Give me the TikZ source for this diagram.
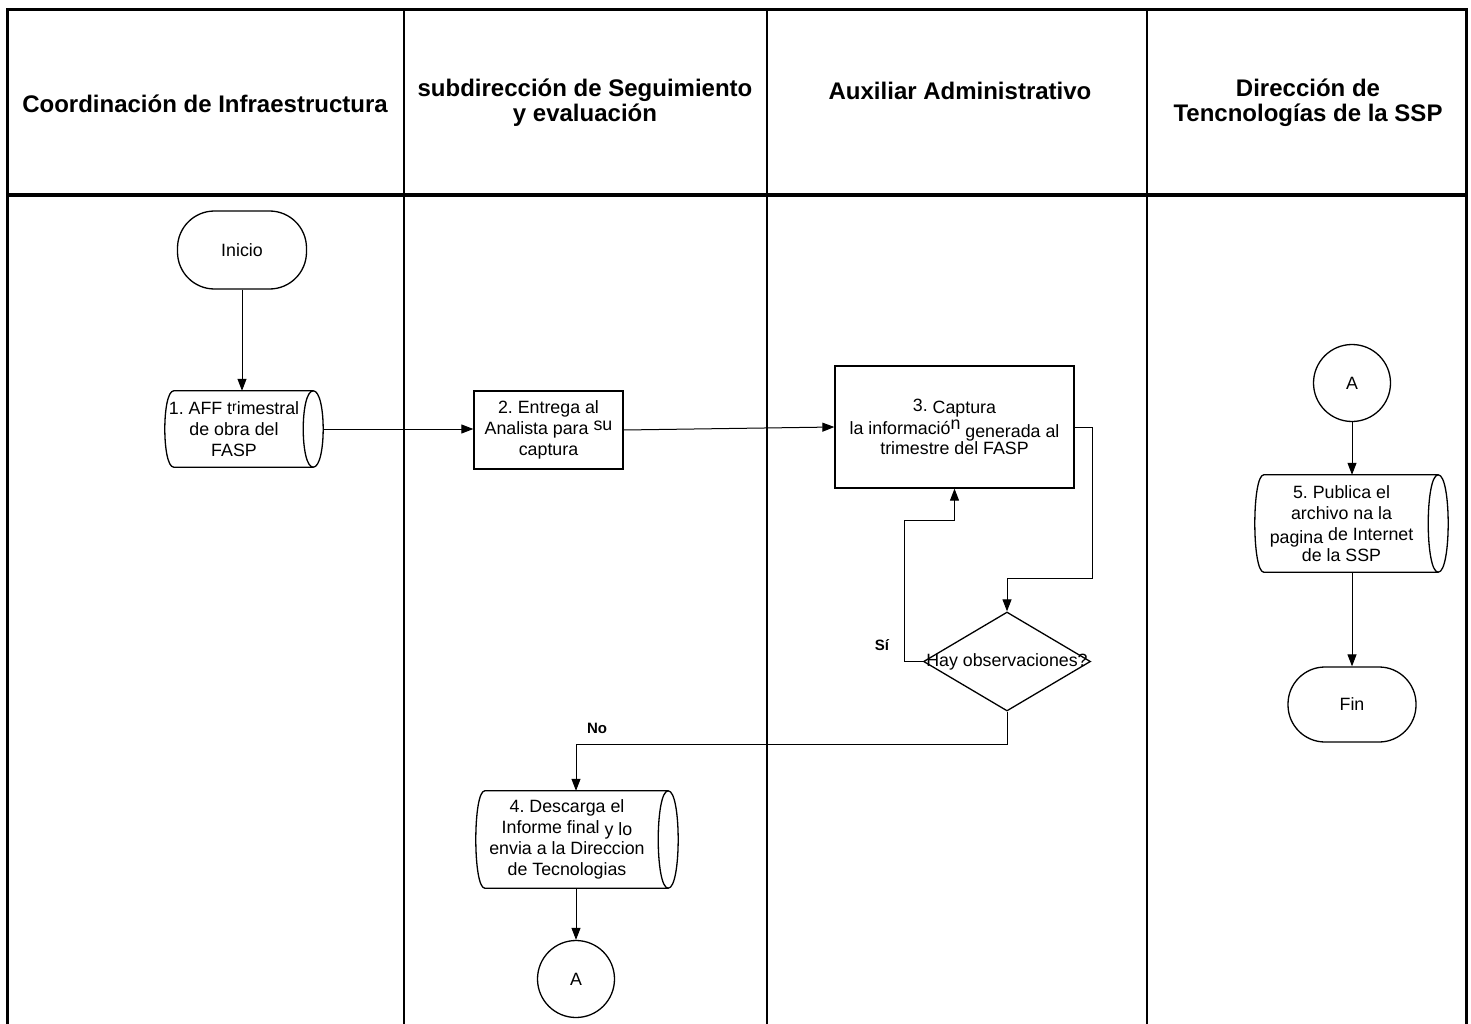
\documentclass[tikz,border=0pt]{standalone}
\usepackage{fontspec}
\setmainfont{Liberation Sans}
\usetikzlibrary{arrows.meta,shapes.geometric,calc}

% outline of a stored-data (drum) symbol around a text node
\newcommand\drumoutline[1]{%
  \draw[outline] ([xshift=9pt]#1.north west) -- ([xshift=10pt]#1.north east)
    .. controls ([xshift=23.3pt]#1.north east) and ([xshift=23.3pt]#1.south east) .. ([xshift=10pt]#1.south east)
    -- ([xshift=9pt]#1.south west)
    .. controls ([xshift=-3pt]#1.south west) and ([xshift=-3pt]#1.north west) .. cycle;
  \draw[outline] ([xshift=10pt]#1.north east)
    .. controls ([xshift=-3.3pt]#1.north east) and ([xshift=-3.3pt]#1.south east) .. ([xshift=10pt]#1.south east);
}

\begin{document}
\frenchspacing
\begin{tikzpicture}[x=1pt,y=-1pt,
  frame/.style={line width=3.2pt},
  lane/.style={line width=2.4pt},
  header/.style={font=\fontsize{24}{25}\selectfont\bfseries, align=center, inner sep=0pt},
  body/.style={font=\fontsize{17.8}{20.8}\selectfont, align=center, inner sep=0pt},
  outline/.style={draw, line width=1.3pt},
  terminal/.style={body, draw, line width=1.3pt, rounded corners=37pt,
    minimum width=129pt, minimum height=78pt},
  process/.style={body, draw, line width=1.3pt, rectangle},
  drumtext/.style={body, rectangle},
  decision/.style={diamond, draw, line width=1.3pt, inner sep=0pt, aspect=1.69,
    minimum width=167pt, minimum height=99pt},
  onpage/.style={body, circle, draw, line width=1.3pt, minimum size=77pt},
  flow/.style={line width=1pt, -{Triangle[length=12pt,width=9pt]}},
  answer/.style={font=\fontsize{15}{15}\selectfont\bfseries, inner sep=0pt}]

\useasboundingbox (0,0) rectangle (1471,1024);

% swimlane frame and headers
\draw[frame] (7.5,1024) -- (7.5,9.5) -- (1466.5,9.5) -- (1466.5,1024);
\draw[frame] (7.5,195) -- (1466.5,195);
\draw[lane] (404,9.5) -- (404,1024);
\draw[lane] (767,9.5) -- (767,1024);
\draw[lane] (1147,9.5) -- (1147,1024);

\node[header] (h1) at (205,104) {Coordinación de Infraestructura};
\node[header] (h2) at (585,103) {subdirección de Seguimiento\\y evaluación};
\node[header] (h3) at (960,91) {Auxiliar Administrativo};
\node[header] (h4) at (1308,103) {Dirección de\\Tencnologías de la SSP};

% flow steps
\node[terminal] (inicio) at (242,250) {Inicio};

\node[drumtext, minimum width=138pt, minimum height=76pt] (n1) at (234,429)
  {1. AFF t\raisebox{3pt}{\fontsize{14}{14}\selectfont r}imestral\\de obra del\\FASP};
\drumoutline{n1}
\coordinate (n1out) at ([xshift=20pt]n1.east);

\node[process, minimum width=149pt, minimum height=78pt] (b2) at (548.5,430)
  {2. Entrega al\\Analista para \raisebox{4pt}{su}\\captura};

\node[process, minimum width=239pt, minimum height=122pt] (b3) at (954.5,427)
  {\raisebox{2pt}{3.} Captura\\la informació\raisebox{5pt}{n} \raisebox{-3pt}{generada al}\\trimestre del FASP};

\node[decision, label={[body]center:Hay observaciones?}] (d) at (1007,661.5) {};

\node[drumtext, minimum width=182pt, minimum height=97pt] (n4) at (567,839.5)
  {4. Descarga el\\Informe final \raisebox{-2pt}{y lo}\\envia a la Direccion\\de Tecnologias};
\drumoutline{n4}

\node[onpage] (a1) at (576,979) {A};

\node[onpage] (a2) at (1352,383) {A};

\node[drumtext, minimum width=173pt, minimum height=97pt] (n5) at (1341.5,523.5)
  {5. Publica el\\archivo na la\\\raisebox{-3pt}{pagina} de Internet\\de la SSP};
\drumoutline{n5}

\node[terminal, minimum width=128pt, minimum height=75pt] (fin) at (1352,704.5) {Fin};

% bends of the routed connectors
\coordinate (loopout) at (1092,578);
\coordinate (loopback) at (904,520);
\coordinate (nobend) at (576,744);

% connectors
\draw[flow] (inicio.south) -- (inicio.south |- n1.north);
\draw[flow] (n1out) -- (n1out -| b2.west);
\draw[flow] (b2.east) -- (b3.west);
\draw[flow] (b3.east) -| (loopout) -| (d.north);
\draw[flow] (d.west) -| (loopback) -| (b3.south);
\draw[flow] (d.south) |- (nobend) -- (nobend |- n4.north);
\draw[flow] (a1.north |- n4.south) -- (a1.north);
\draw[flow] (a2.south) -- (a2.south |- n5.north);
\draw[flow] (a2.south |- n5.south) -- (fin.north);

\node[answer] (si) at (882,645) {Sí};
\node[answer] (no) at (597,728) {No};

\end{tikzpicture}
\end{document}
